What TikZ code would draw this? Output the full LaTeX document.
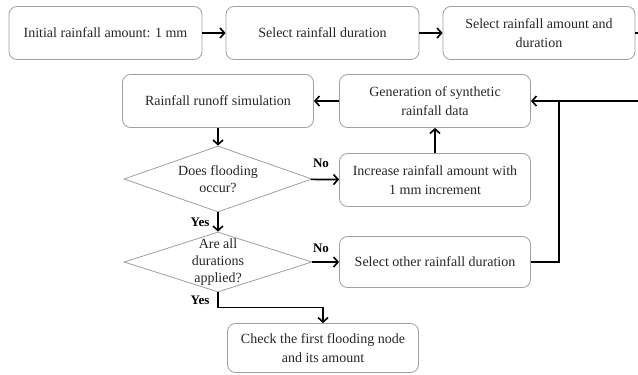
\documentclass[tikz,border=0pt]{standalone}
\usepackage{fontspec}
\setmainfont{Liberation Serif}
\usetikzlibrary{shapes.geometric,arrows.meta}

\tikzset{
  procbox/.style={draw=gray!75, line width=0.8pt, rounded corners=8pt, align=center,
    minimum width=191pt, minimum height=53pt, inner sep=2pt,
    text=black!85, font=\fontsize{14}{19}\selectfont},
  decbox/.style={draw=gray!75, line width=0.8pt, diamond, inner sep=0pt,
    minimum width=188pt},
  dectext/.style={align=center, text=black!85, font=\fontsize{14}{17}\selectfont},
  flow/.style={line width=1.6pt, -{Straight Barb[length=4.5pt,width=10pt,line width=1.6pt]}},
  plain/.style={line width=1.6pt},
  answer/.style={font=\fontsize{13}{15}\selectfont\bfseries}
}

\begin{document}
\begin{tikzpicture}[x=1pt,y=1pt]
        \useasboundingbox (0,0) rectangle (638,-375);

        % first row
        \node[procbox, minimum width=193pt] (init) at (105.5,-33) {Initial rainfall amount: 1 mm};
        \node[procbox, minimum width=193pt] (dur) at (322.5,-33) {Select rainfall duration};
        \node[procbox, minimum width=192pt] (sel) at (539,-33) {Select rainfall amount and\\duration};
        \coordinate (outR) at (638,-33);

        % simulation loop
        \node[procbox] (runoff) at (218,-101) {Rainfall runoff simulation};
        \node[procbox] (gen) at (435,-101) {Generation of synthetic\\rainfall data};
        \node[procbox] (incr) at (435,-180) {Increase rainfall amount with\\1 mm increment};
        \node[procbox, minimum height=51pt] (other) at (435,-262) {Select other rainfall duration};
        \node[procbox, minimum height=49pt] (check) at (323,-348) {Check the first flooding node\\and its amount};
        \coordinate (inR) at (638,-101);
        \coordinate (bend) at (559,-101);

        % decisions
        \node[decbox, minimum height=66pt] (flood) at (218,-179) {};
        \node[dectext] (floodtxt) at (flood) {Does flooding\\occur?};
        \node[decbox, minimum height=60pt] (alldur) at (218,-262) {};
        \node[dectext] (alldurtxt) at (alldur) {Are all\\durations\\applied?};

        \node[answer] (no1) at (321,-163) {No};
        \node[answer] (yes1) at (200,-222) {Yes};
        \node[answer] (no2) at (321,-248) {No};
        \node[answer] (yes2) at (200,-300) {Yes};

        % connectors
        \draw[flow] (init) -- (dur);
        \draw[flow] (dur) -- (sel);
        \draw[plain] (sel) -- (outR);
        \draw[flow] (inR) -- (gen);
        \draw[flow] (gen) -- (runoff);
        \draw[flow] (runoff) -- (flood);
        \draw[flow] (flood) -- (incr);
        \draw[flow] (incr) -- (gen);
        \draw[flow] (flood) -- (alldur);
        \draw[flow] (alldur) -- (other);
        \draw[plain] (other.east) -| (bend);
        \draw[flow] (alldur.south) -- ++(0,-15) -| (check.north);
      \end{tikzpicture}
\end{document}
